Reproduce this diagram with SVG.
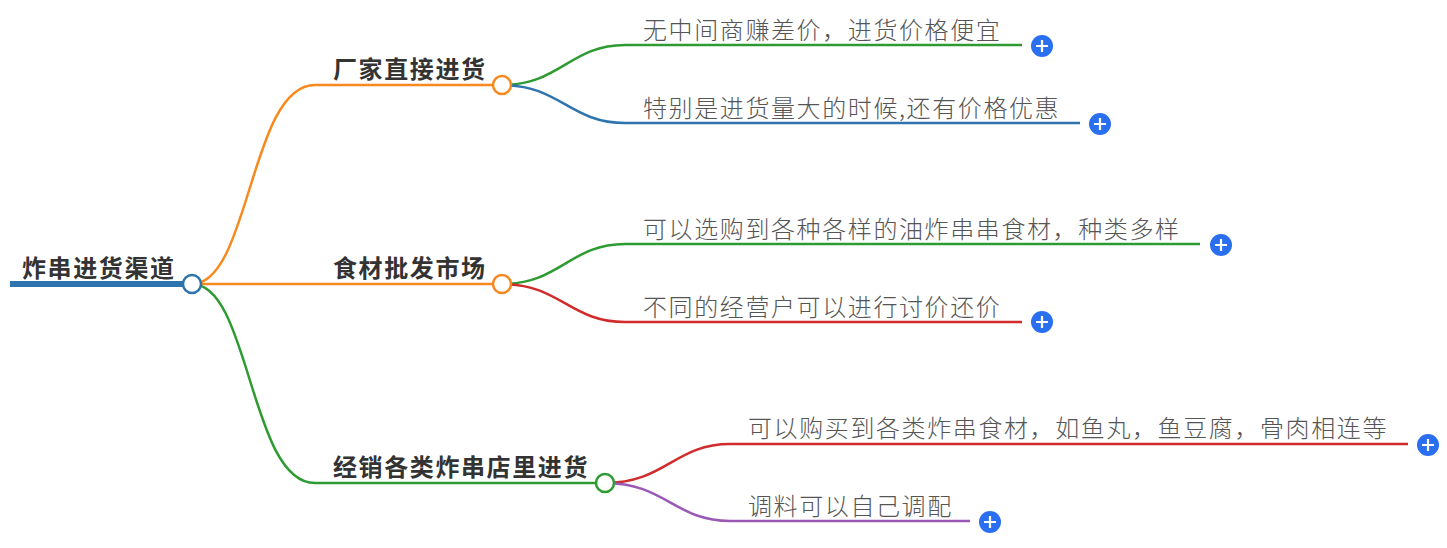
<svg xmlns="http://www.w3.org/2000/svg" width="1447" height="548" viewBox="0 0 1447 548">
<style>
.b{font-family:"Noto Sans CJK SC",sans-serif;font-weight:bold;font-size:24px;letter-spacing:1.6px;fill:#333}
.l{font-family:"Noto Sans CJK SC",sans-serif;font-size:24px;letter-spacing:1.6px;fill:#555;font-weight:300}
.c{fill:none;stroke-width:2.5}
.p{fill:#2a6ff0}
.pl{stroke:#fff;stroke-width:2.2}
</style>
<rect width="1447" height="548" fill="#fff"/>
<g id="connectors" fill="none">
<path d="M10,284 H192" stroke="#2e75b0" stroke-width="6"/>
<path class="c" stroke="#f7891e" d="M192,284 C250,284 250,85 315,85 H493"/>
<path class="c" stroke="#f7891e" d="M192,284 H493"/>
<path class="c" stroke="#2e9b32" d="M192,284 C250,284 250,483 315,483 H596"/>
<path class="c" stroke="#2e9b32" d="M502,85 C560,85 570,45 625,45 H1022"/>
<path class="c" stroke="#2e75b0" d="M502,85 C560,85 570,123 625,123 H1080"/>
<path class="c" stroke="#2e9b32" d="M502,284 C560,284 570,244 625,244 H1200"/>
<path class="c" stroke="#d12b2b" d="M502,284 C560,284 570,322 625,322 H1022"/>
<path class="c" stroke="#d12b2b" d="M605,483 C665,483 675,444 730,444 H1408"/>
<path class="c" stroke="#9b59b6" d="M605,483 C665,483 675,521 730,521 H970"/>
</g>
<g id="root"><text class="b" x="22" y="277">炸串进货渠道</text><circle cx="192" cy="284" r="9" fill="#fff" stroke="#2e75b0" stroke-width="2.5"/></g>
<g id="n1"><text class="b" x="333" y="78">厂家直接进货</text><circle cx="502" cy="85" r="9" fill="#fff" stroke="#f7891e" stroke-width="2.5"/></g>
<g id="n2"><text class="b" x="333" y="277">食材批发市场</text><circle cx="502" cy="284" r="9" fill="#fff" stroke="#f7891e" stroke-width="2.5"/></g>
<g id="n3"><text class="b" x="333" y="476">经销各类炸串店里进货</text><circle cx="605" cy="483" r="9" fill="#fff" stroke="#2e9b32" stroke-width="2.5"/></g>
<g id="l1"><text class="l" x="643" y="39">无中间商赚差价，进货价格便宜</text><circle class="p" cx="1042" cy="46" r="11"/><path class="pl" d="M1036,46H1048M1042,40V52"/></g>
<g id="l2"><text class="l" x="643" y="117">特别是进货量大的时候,还有价格优惠</text><circle class="p" cx="1100" cy="124" r="11"/><path class="pl" d="M1094,124H1106M1100,118V130"/></g>
<g id="l3"><text class="l" x="643" y="238">可以选购到各种各样的油炸串串食材，种类多样</text><circle class="p" cx="1221" cy="245" r="11"/><path class="pl" d="M1215,245H1227M1221,239V251"/></g>
<g id="l4"><text class="l" x="643" y="316">不同的经营户可以进行讨价还价</text><circle class="p" cx="1042" cy="322" r="11"/><path class="pl" d="M1036,322H1048M1042,316V328"/></g>
<g id="l5"><text class="l" x="748" y="437">可以购买到各类炸串食材，如鱼丸，鱼豆腐，骨肉相连等</text><circle class="p" cx="1428" cy="445" r="11"/><path class="pl" d="M1422,445H1434M1428,439V451"/></g>
<g id="l6"><text class="l" x="748" y="515">调料可以自己调配</text><circle class="p" cx="990" cy="522" r="11"/><path class="pl" d="M984,522H996M990,516V528"/></g>
</svg>
